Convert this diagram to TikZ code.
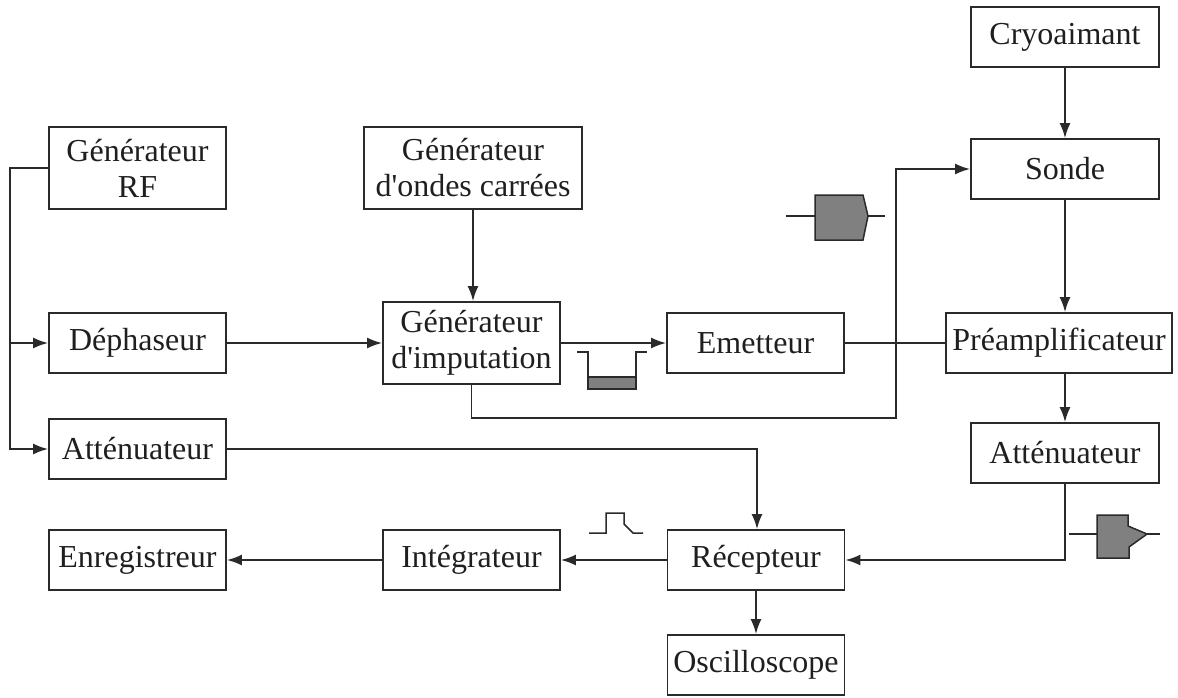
\documentclass[tikz,border=0pt]{standalone}
\usepackage{fontspec}
\setmainfont{Liberation Serif}[Ligatures=TeXOff]
\usetikzlibrary{arrows.meta}
\definecolor{linecol}{HTML}{2A2A2A}
\definecolor{shade}{HTML}{808080}
\begin{document}
\begin{tikzpicture}[x=1pt,y=-1pt,
  conn/.style={draw=linecol, line width=1.8pt},
  block/.style={draw=linecol, line width=1.8pt, rectangle, inner sep=0pt, align=center,
    font=\fontsize{32}{36}\selectfont, text=black!88},
  std/.style={block, minimum width=177pt, minimum height=60pt},
  tall/.style={block, minimum width=177pt, minimum height=82pt},
  wide/.style={block, minimum width=188pt, minimum height=60pt},
  arr/.style={conn, -{Latex[length=15pt,width=11pt]}},
  glyph/.style={line width=1.5pt, draw=linecol},
  glyphfill/.style={glyph, fill=shade}]
\useasboundingbox (0,0) rectangle (1178,697);

% blocks
\node[tall] (genrf)  at (137.5,168) {Générateur\\RF};
\node[tall, minimum width=218pt] (genoc) at (473,168) {Générateur\\d'ondes carrées};
\node[std]  (dephas) at (137.5,343) {Déphaseur};
\node[std]  (attL)   at (137.5,449) {Atténuateur};
\node[tall] (genimp) at (471.5,343) {Générateur\\d'imputation};
\node[std]  (emet)   at (755.5,343) {Emetteur};
\node[wide] (cryo)   at (1065,37) {Cryoaimant};
\node[wide] (sonde)  at (1065,169) {Sonde};
\node[std, minimum width=226pt] (preamp) at (1059,343) {Préamplificateur};
\node[wide] (attR)   at (1065,453) {Atténuateur};
\node[std]  (recep)  at (756,560) {Récepteur};
\node[std]  (integ)  at (471.5,560) {Intégrateur};
\node[std]  (enreg)  at (137.5,560) {Enregistreur};
\node[std]  (oscil)  at (756,665) {Oscilloscope};

% routing points
\coordinate (bus) at (10,0);
\coordinate (loopy) at (0,418);
\coordinate (loopx) at (896,0);
\coordinate (attx) at (757,0);

% connectors
\draw[arr] (genrf.west) -| (bus |- attL) -- (attL.west);
\draw[arr] (bus |- dephas) -- (dephas.west);
\draw[arr] (dephas.east) -- (genimp.west);
\draw[arr] (genoc.south) -- (genoc.south |- genimp.north);
\draw[arr] (genimp.east) -- (emet.west);
\draw[arr] (genimp.south) |- (loopx |- loopy) |- (sonde.west);
\draw[conn] (emet.east) -- (preamp.west);
\draw[arr] (cryo.south) -- (sonde.north);
\draw[arr] (sonde.south) -- (sonde.south |- preamp.north);
\draw[arr] (attR.north |- preamp.south) -- (attR.north);
\draw[arr] (attR.south) |- (recep.east);
\draw[arr] (attL.east) -| (attx |- recep.north);
\draw[arr] (recep.west) -- (integ.east);
\draw[arr] (integ.west) -- (enreg.east);
\draw[arr] (recep.south) -- (oscil.north);

% signal shapes
\draw[glyph] (786,216) -- (815,216);
\draw[glyphfill] (815,195) -- (863,195) -- (868,216) -- (863,240) -- (815,240) -- cycle;
\draw[glyph] (868,216) -- (885,216);

\draw[glyphfill] (588,377) rectangle (636,389);
\draw[glyph] (577,352) -- (588,352) -- (588,389) -- (636,389) -- (636,352) -- (647,352);

\draw[glyph] (589,533) -- (606,533) -- (606,513) -- (624,513) -- (624,524) -- (633,533) -- (643,533);

\draw[glyph] (1069,534) -- (1097,534);
\draw[glyphfill] (1097,515) -- (1128,515) -- (1128,526) -- (1147,534) -- (1129,547) -- (1129,558) -- (1097,558) -- cycle;
\draw[glyph] (1147,534) -- (1160,534);
\end{tikzpicture}
\end{document}
